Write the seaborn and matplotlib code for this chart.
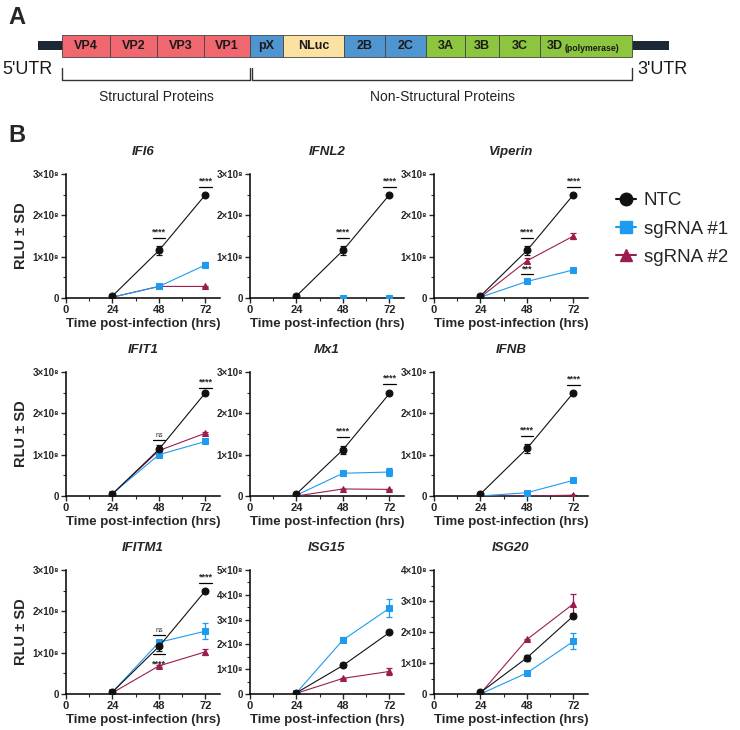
import matplotlib
matplotlib.use('Agg')
import matplotlib.pyplot as plt
import seaborn as sns
from matplotlib.patches import Rectangle
from matplotlib.lines import Line2D
from matplotlib.ticker import MultipleLocator

sns.set_theme(style='ticks')
plt.rcParams['font.family'] = ['Liberation Sans', 'DejaVu Sans']

# ---- panel A: genome layout (segment names and boundaries, px along the bar)
seg_names = ['VP4', 'VP2', 'VP3', 'VP1', 'pX', 'NLuc', '2B', '2C', '3A', '3B', '3C', '3D']
seg_edges = [62, 110, 157, 204, 250, 283, 344, 385, 426, 465, 499, 540, 632]
seg_groups = ['vp', 'vp', 'vp', 'vp', 'p2', 'nluc', 'p2', 'p2', 'p3', 'p3', 'p3', 'p3']
group_colors = {'vp': '#F0676F', 'p2': '#4F95CF', 'nluc': '#FCE2A2', 'p3': '#8CC63F'}

# ---- panel B: RLU values (x1e8) at 24/48/72 h
hours = [24, 48, 72]
genes = ['IFI6', 'IFNL2', 'Viperin', 'IFIT1', 'Mx1', 'IFNB', 'IFITM1', 'ISG15', 'ISG20']
y_max = [3, 3, 3, 3, 3, 3, 3, 5, 4]

ntc = [[0.05, 1.15, 2.5], [0.05, 1.15, 2.5], [0.05, 1.15, 2.5],
       [0.05, 1.13, 2.5], [0.05, 1.12, 2.48], [0.05, 1.15, 2.5],
       [0.05, 1.15, 2.5], [0.05, 1.15, 2.48], [0.05, 1.17, 2.52]]
ntc_sd = [[0.0, 0.1, 0.02], [0.0, 0.1, 0.02], [0.0, 0.1, 0.02],
          [0.0, 0.1, 0.02], [0.0, 0.1, 0.02], [0.0, 0.1, 0.02],
          [0.0, 0.1, 0.02], [0.0, 0.08, 0.03], [0.0, 0.1, 0.05]]
sg1 = [[0.02, 0.28, 0.8], [0.0, 0.0, 0.0], [0.02, 0.4, 0.68],
       [0.06, 1.0, 1.32], [0.02, 0.55, 0.58], [0.0, 0.08, 0.38],
       [0.05, 1.25, 1.52], [0.05, 2.18, 3.46], [0.0, 0.68, 1.7]]
sg1_sd = [[0.0, 0.02, 0.06], [0.0, 0.0, 0.0], [0.0, 0.02, 0.02],
          [0.0, 0.04, 0.04], [0.0, 0.03, 0.1], [0.0, 0.02, 0.04],
          [0.0, 0.04, 0.2], [0.0, 0.1, 0.36], [0.0, 0.03, 0.26]]
sg2 = [[0.02, 0.28, 0.28], [0.0, 0.0, 0.0], [0.02, 0.9, 1.5],
       [0.05, 1.1, 1.52], [0.0, 0.17, 0.16], [0.0, 0.0, 0.02],
       [0.03, 0.68, 1.02], [0.03, 0.63, 0.91], [0.02, 1.76, 2.91]]
sg2_sd = [[0.0, 0.01, 0.01], [0.0, 0.0, 0.0], [0.0, 0.06, 0.08],
          [0.0, 0.03, 0.03], [0.0, 0.01, 0.01], [0.0, 0.0, 0.0],
          [0.0, 0.03, 0.08], [0.0, 0.03, 0.15], [0.0, 0.03, 0.3]]

# significance marks: (gene, hour, bar height x1e8, label, text side)
sig_marks = [('IFI6', 48, 1.45, '****', 'above'), ('IFI6', 72, 2.69, '****', 'above'),
             ('IFNL2', 48, 1.45, '****', 'above'), ('IFNL2', 72, 2.69, '****', 'above'),
             ('Viperin', 48, 1.46, '****', 'above'), ('Viperin', 48, 0.57, '***', 'above'),
             ('Viperin', 72, 2.69, '****', 'above'),
             ('IFIT1', 48, 1.35, 'ns', 'above'), ('IFIT1', 72, 2.62, '****', 'above'),
             ('Mx1', 48, 1.43, '****', 'above'), ('Mx1', 72, 2.71, '****', 'above'),
             ('IFNB', 48, 1.45, '****', 'above'), ('IFNB', 72, 2.69, '****', 'above'),
             ('IFITM1', 48, 1.42, 'ns', 'above'), ('IFITM1', 48, 0.96, '****', 'below'),
             ('IFITM1', 72, 2.69, '****', 'above')]

series = ['sgRNA #2', 'sgRNA #1', 'NTC']
colors = {'NTC': '#111111', 'sgRNA #1': '#1E9BF0', 'sgRNA #2': '#9B1D50'}
markers = {'NTC': 'o', 'sgRNA #1': 's', 'sgRNA #2': '^'}
msize = {'NTC': 5, 'sgRNA #1': 5, 'sgRNA #2': 4.5}
vals = {'NTC': ntc, 'sgRNA #1': sg1, 'sgRNA #2': sg2}
sds = {'NTC': ntc_sd, 'sgRNA #1': sg1_sd, 'sgRNA #2': sg2_sd}

W, H = 740, 730
fig = plt.figure(figsize=(W / 100, H / 100), dpi=100)


def px_axes(left, top, width, height):
    return fig.add_axes([left / W, 1 - (top + height) / H, width / W, height / H])


# ---------------- panel A
axa = px_axes(0, 0, W, 115)
axa.set_xlim(0, W)
axa.set_ylim(115, 0)
axa.axis('off')
axa.text(8, 17, 'A', fontsize=17, fontweight='bold', va='center', ha='left')
axa.add_patch(Rectangle((38, 41), 631, 9, color='#1C2833', lw=0))
for i, name in enumerate(seg_names):
    x0, x1 = seg_edges[i], seg_edges[i + 1]
    axa.add_patch(Rectangle((x0, 35), x1 - x0, 22, facecolor=group_colors[seg_groups[i]],
                            edgecolor='#444444', lw=0.6))
    if name == '3D':
        axa.text(x0 + 7, 46, '3D', fontsize=9, fontweight='bold', va='center', ha='left',
                 color='#1a1a1a')
        axa.text(x0 + 25, 48.5, '(polymerase)', fontsize=6.3, fontweight='bold', va='center',
                 ha='left', color='#1a1a1a')
    else:
        axa.text((x0 + x1) / 2, 46, name, fontsize=9, fontweight='bold', va='center',
                 ha='center', color='#1a1a1a')
axa.text(2, 69, "5'UTR", fontsize=13, va='center', ha='left', color='#1a1a1a')
axa.text(637, 69, "3'UTR", fontsize=13, va='center', ha='left', color='#1a1a1a')
for (b0, b1), label in zip([(seg_edges[0], seg_edges[4]), (seg_edges[4] + 2, seg_edges[-1])],
                           ['Structural Proteins', 'Non-Structural Proteins']):
    axa.plot([b0, b0, b1, b1], [68, 80, 80, 68], color='#333333', lw=1)
    axa.text((b0 + b1) / 2, 97, label, fontsize=10, va='center', ha='center', color='#222222')

fig.text(8 / W, 1 - 136 / H, 'B', fontsize=17, fontweight='bold', va='center', ha='left')

# ---------------- panel B
col_left = [66, 250, 434]
row_top = [174, 372, 570]
ax_w, ax_h = 154, 124

for gi, gene in enumerate(genes):
    r, c = divmod(gi, 3)
    ax = px_axes(col_left[c], row_top[r], ax_w, ax_h)
    for s in series:
        y = vals[s][gi]
        ax.errorbar(hours, y, yerr=sds[s][gi], fmt='none', ecolor=colors[s], elinewidth=0.9,
                    capsize=2.5, capthick=0.9, zorder=2)
        sns.lineplot(x=hours, y=y, color=colors[s], marker=markers[s], markersize=msize[s],
                     markeredgecolor=colors[s], linewidth=0.8, ax=ax, zorder=3)
    ymax = y_max[gi]
    ax.set_xlim(0, 79.5)
    ax.set_ylim(0, ymax)
    ax.set_xticks([0, 24, 48, 72])
    ax.xaxis.set_minor_locator(MultipleLocator(12))
    ax.set_yticks(range(ymax + 1))
    ax.yaxis.set_minor_locator(MultipleLocator(0.5))
    ax.set_yticklabels(['0'] + [f'{k}×10⁸' for k in range(1, ymax + 1)])
    ax.tick_params(axis='both', which='major', length=3.5, width=1, direction='out', pad=1.5)
    ax.tick_params(axis='both', which='minor', length=2, width=0.8, direction='out')
    ax.tick_params(axis='x', labelsize=8)
    ax.tick_params(axis='y', labelsize=7)
    for lab in ax.get_xticklabels() + ax.get_yticklabels():
        lab.set_fontweight('bold')
    for sp in ['top', 'right']:
        ax.spines[sp].set_visible(False)
    for sp in ['left', 'bottom']:
        ax.spines[sp].set_linewidth(1.1)
        ax.spines[sp].set_color('black')
    ax.set_title(gene, fontsize=9.5, fontweight='bold', fontstyle='italic', pad=14)
    ax.set_xlabel('Time post-infection (hrs)', fontsize=9.5, fontweight='bold', labelpad=2)
    if c == 0:
        ax.set_ylabel('RLU ± SD', fontsize=10.5, fontweight='bold', labelpad=3)
    else:
        ax.set_ylabel('')
    for g, hr, yb, txt, side in sig_marks:
        if g != gene:
            continue
        ax.plot([hr - 3.3, hr + 3.3], [yb, yb], color='black', lw=0.9, clip_on=False)
        fs = 5 if txt == 'ns' else 6.5
        if side == 'above':
            ax.text(hr, yb + 0.01 * ymax, txt, ha='center', va='bottom', fontsize=fs,
                    fontweight='bold' if txt != 'ns' else 'normal')
        else:
            ax.text(hr, yb - 0.12 * ymax / 3, txt, ha='center', va='top', fontsize=fs,
                    fontweight='bold')

handles = [Line2D([], [], color=colors[s], marker=markers[s], markersize=9 if s != 'sgRNA #2' else 8,
                  lw=1.5) for s in ['NTC', 'sgRNA #1', 'sgRNA #2']]
fig.legend(handles, ['NTC', 'sgRNA #1', 'sgRNA #2'], loc='center left',
           bbox_to_anchor=(608 / W, 1 - 229 / H), frameon=False, fontsize=13.5,
           handlelength=1.1, handletextpad=0.4, labelspacing=0.6, borderaxespad=0)

fig.savefig('out.png', dpi=100)
